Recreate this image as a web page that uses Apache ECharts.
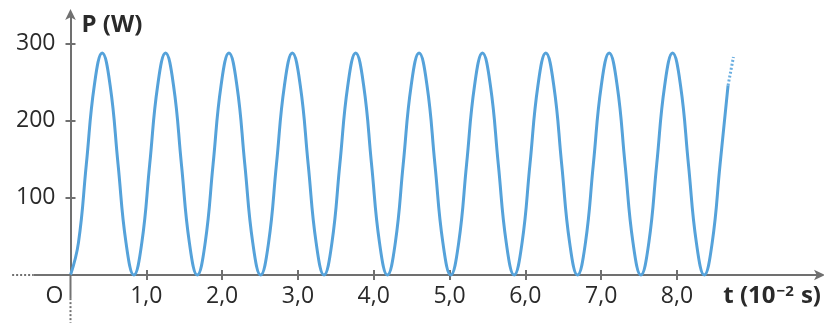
<!DOCTYPE html>
<html>
<head>
<meta charset="utf-8">
<script src="https://cdn.jsdelivr.net/npm/echarts@6/dist/echarts.min.js"></script>
<style>html,body{margin:0;padding:0;background:#fff}#c{width:824px;height:324px}</style>
</head>
<body>
<div id="c"></div>
<script>
// time values (10^-2 s)
var times = [0,0.105,0.209,0.314,0.418,0.523,0.627,0.732,
0.836,0.941,1.045,1.15,1.254,1.359,1.463,1.568,
1.672,1.777,1.881,1.986,2.09,2.195,2.299,2.404,
2.508,2.613,2.717,2.822,2.926,3.031,3.135,3.24,
3.344,3.449,3.553,3.658,3.762,3.867,3.971,4.076,
4.18,4.285,4.389,4.494,4.598,4.703,4.807,4.912,
5.016,5.121,5.225,5.33,5.434,5.539,5.643,5.748,
5.852,5.957,6.061,6.166,6.27,6.375,6.479,6.584,
6.688,6.793,6.897,7.002,7.106,7.211,7.315,7.42,
7.524,7.629,7.733,7.838,7.942,8.047,8.151,8.256,
8.36,8.465,8.569,8.674];
// power values (W)
var power = [0,42,144,246,288,246,144,42,
0,42,144,246,288,246,144,42,
0,42,144,246,288,246,144,42,
0,42,144,246,288,246,144,42,
0,42,144,246,288,246,144,42,
0,42,144,246,288,246,144,42,
0,42,144,246,288,246,144,42,
0,42,144,246,288,246,144,42,
0,42,144,246,288,246,144,42,
0,42,144,246,288,246,144,42,
0,42,144,246];
// dotted continuation at the end of the curve
var tailTimes = [8.674, 8.745];
var tailPower = [246, 283];
// axis extensions beyond the origin (data units)
var xExtSolid = [[-0.49,0],[0,0]];
var xExtDotted = [[-0.77,0],[-0.49,0]];
var yExtSolid = [[0,0],[0,-30]];
var yExtDotted = [[0,-30],[0,-62]];
var xTickValues = [1,2,3,4,5,6,7,8];
var xLabelValues = [0,1,2,3,4,5,6,7,8];
var yTickValues = [100,200,300];

var AX = '#707070';
var AX2 = '#727272';
var TXT = '#2a2a2a';
var FONT = 'Open Sans';

function pairs(a,b){var r=[];for(var i=0;i<a.length;i++)r.push([a[i],b[i]]);return r;}

var chart = echarts.init(document.getElementById('c'), null, {renderer:'canvas'});
var commonX = {type:'value', min:0, max:9.9, interval:1, splitLine:{show:false}};
var commonY = {type:'value', min:0, max:340, interval:100, splitLine:{show:false}};
chart.setOption({
  animation:false,
  grid:{left:70.5, right:1.6, top:13, bottom:49, containLabel:false},
  xAxis:[
    Object.assign({}, commonX, {
      position:'bottom',
      axisLine:{show:true, lineStyle:{color:AX, width:2}, symbol:['none','arrow'], symbolSize:[8,11], symbolOffset:[0,4]},
      axisTick:{show:true, length:5, lineStyle:{color:AX, width:2}, customValues:xTickValues},
      axisLabel:{show:true, margin:10, color:TXT, fontFamily:FONT, fontSize:23, customValues:xLabelValues,
        formatter:function(v){ if(v===0) return '{o|O}'; return v.toFixed(1).replace('.',','); },
        rich:{o:{fontFamily:FONT, fontSize:23, color:TXT, padding:[0,32,0,0]}}},
      name:'t (10{sup|−2} s)', nameLocation:'end', nameGap:0,
      nameTextStyle:{fontFamily:FONT, fontSize:24, fontWeight:'bold', color:TXT, align:'right', verticalAlign:'top', padding:[9,0,0,0],
        rich:{sup:{fontFamily:FONT, fontSize:15, fontWeight:'bold', color:TXT, verticalAlign:'top', padding:[0,1,8,1]}}}
    }),
    Object.assign({}, commonX, {
      position:'bottom',
      axisLine:{show:false},
      axisTick:{show:true, inside:true, length:5, lineStyle:{color:AX, width:2}, customValues:xTickValues},
      axisLabel:{show:false}
    })
  ],
  yAxis:[
    Object.assign({}, commonY, {
      position:'left',
      axisLine:{show:true, lineStyle:{color:AX, width:2}, symbol:['none','arrow'], symbolSize:[8,11], symbolOffset:[0,4]},
      axisTick:{show:true, length:5, lineStyle:{color:AX, width:2}, customValues:yTickValues},
      axisLabel:{show:true, margin:15, color:TXT, fontFamily:FONT, fontSize:23, customValues:yTickValues},
      name:'P (W)', nameLocation:'end', nameGap:-12,
      nameTextStyle:{fontFamily:FONT, fontSize:24, fontWeight:'bold', color:TXT, align:'left', verticalAlign:'middle', padding:[0,0,0,11]}
    }),
    Object.assign({}, commonY, {
      position:'left',
      axisLine:{show:false},
      axisTick:{show:true, inside:true, length:5, lineStyle:{color:AX, width:2}, customValues:yTickValues},
      axisLabel:{show:false}
    })
  ],
  series:[
    {type:'line', data:pairs(times,power), smooth:0.45, symbol:'none', clip:false, z:3, lineStyle:{color:'#55a2da', width:3}},
    {type:'line', data:pairs(tailTimes,tailPower), smooth:false, symbol:'none', clip:false, z:3, lineStyle:{color:'#6aaee0', width:3, type:[2,2]}}
  ]
});

// axis extensions beyond the origin, placed through the chart's own scales
function seg(pts, col, dashed){
  var a = chart.convertToPixel({gridIndex:0}, pts[0]);
  var b = chart.convertToPixel({gridIndex:0}, pts[1]);
  var st = {stroke:col, lineWidth:2};
  if (dashed) st.lineDash = [2,2];
  return {type:'line', silent:true, z:100, shape:{x1:a[0], y1:a[1], x2:b[0], y2:b[1]}, style:st};
}
chart.setOption({graphic:[
  seg(xExtDotted, AX, true), seg(yExtDotted, '#717171', true), seg(xExtSolid, AX2, false), seg(yExtSolid, '#737373', false)
]});
</script>
</body>
</html>
